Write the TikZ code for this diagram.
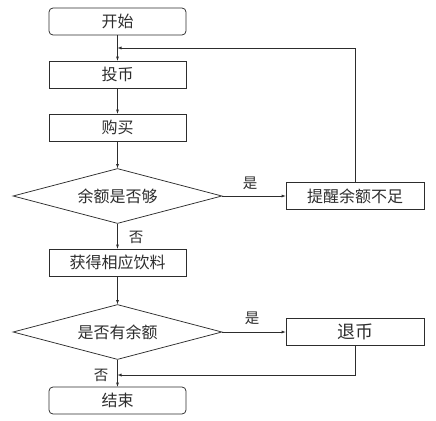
\documentclass[tikz,border=0pt]{standalone}
\usepackage{fontspec}
\newfontfamily\cjk{Noto Sans CJK SC}
\usetikzlibrary{arrows,shapes.geometric}
\definecolor{fc_line}{RGB}{45, 45, 45}
\tikzstyle{pb}=[rectangle,draw=fc_line,line width=0.75pt,text=fc_line,
  inner sep=0pt,minimum width=137pt,minimum height=27pt,
  font=\cjk\fontsize{16}{18}\selectfont]
\tikzstyle{tb}=[pb,rounded corners=4pt]
\tikzstyle{db}=[diamond,aspect=3.8,draw=fc_line,line width=0.75pt,text=fc_line,
  inner sep=0pt,minimum width=209pt,minimum height=55pt,
  font=\cjk\fontsize{16}{18}\selectfont]
\tikzstyle{lb}=[text=fc_line,inner sep=0pt,font=\cjk\fontsize{14.5}{16}\selectfont]

\begin{document}
\begin{tikzpicture}[x=1pt,y=-1pt,>=latex]
        \useasboundingbox (0,0) rectangle (436,420);
        \node[style=tb] (0) at (117.5,21.5) {开始};
        \node[style=pb] (1) at (117.5,74.5) {投币};
        \node[style=pb] (2) at (117.5,127.5) {购买};
        \node[style=db] (3) at (117.5,196) {余额是否够};
        \node[style=pb,minimum width=138pt] (4) at (355,196) {提醒余额不足};
        \node[style=pb] (5) at (117.5,262.5) {获得相应饮料};
        \node[style=db] (6) at (117.5,332) {是否有余额};
        \node[style=pb,minimum width=138pt,font=\cjk\fontsize{18}{20}\selectfont] (7) at (355,332) {退币};
        \node[style=tb] (8) at (117.5,400.5) {结束};
        \coordinate (9) at (117.5,48);
        \coordinate (10) at (117.5,375);
        \node[style=lb] (11) at (250,183) {是};
        \node[style=lb] (12) at (136,237) {否};
        \node[style=lb] (13) at (252,318) {是};
        \node[style=lb] (14) at (101,375) {否};
        \draw[->,fc_line] (0) to (1);
        \draw[->,fc_line] (1) to (2);
        \draw[->,fc_line] (2) to (3);
        \draw[->,fc_line] (3) to (4);
        \draw[->,fc_line] (4) |- (9);
        \draw[->,fc_line] (3) to (5);
        \draw[->,fc_line] (5) to (6);
        \draw[->,fc_line] (6) to (7);
        \draw[->,fc_line] (7) |- (10);
        \draw[->,fc_line] (6) to (8);
    \end{tikzpicture}
\end{document}
